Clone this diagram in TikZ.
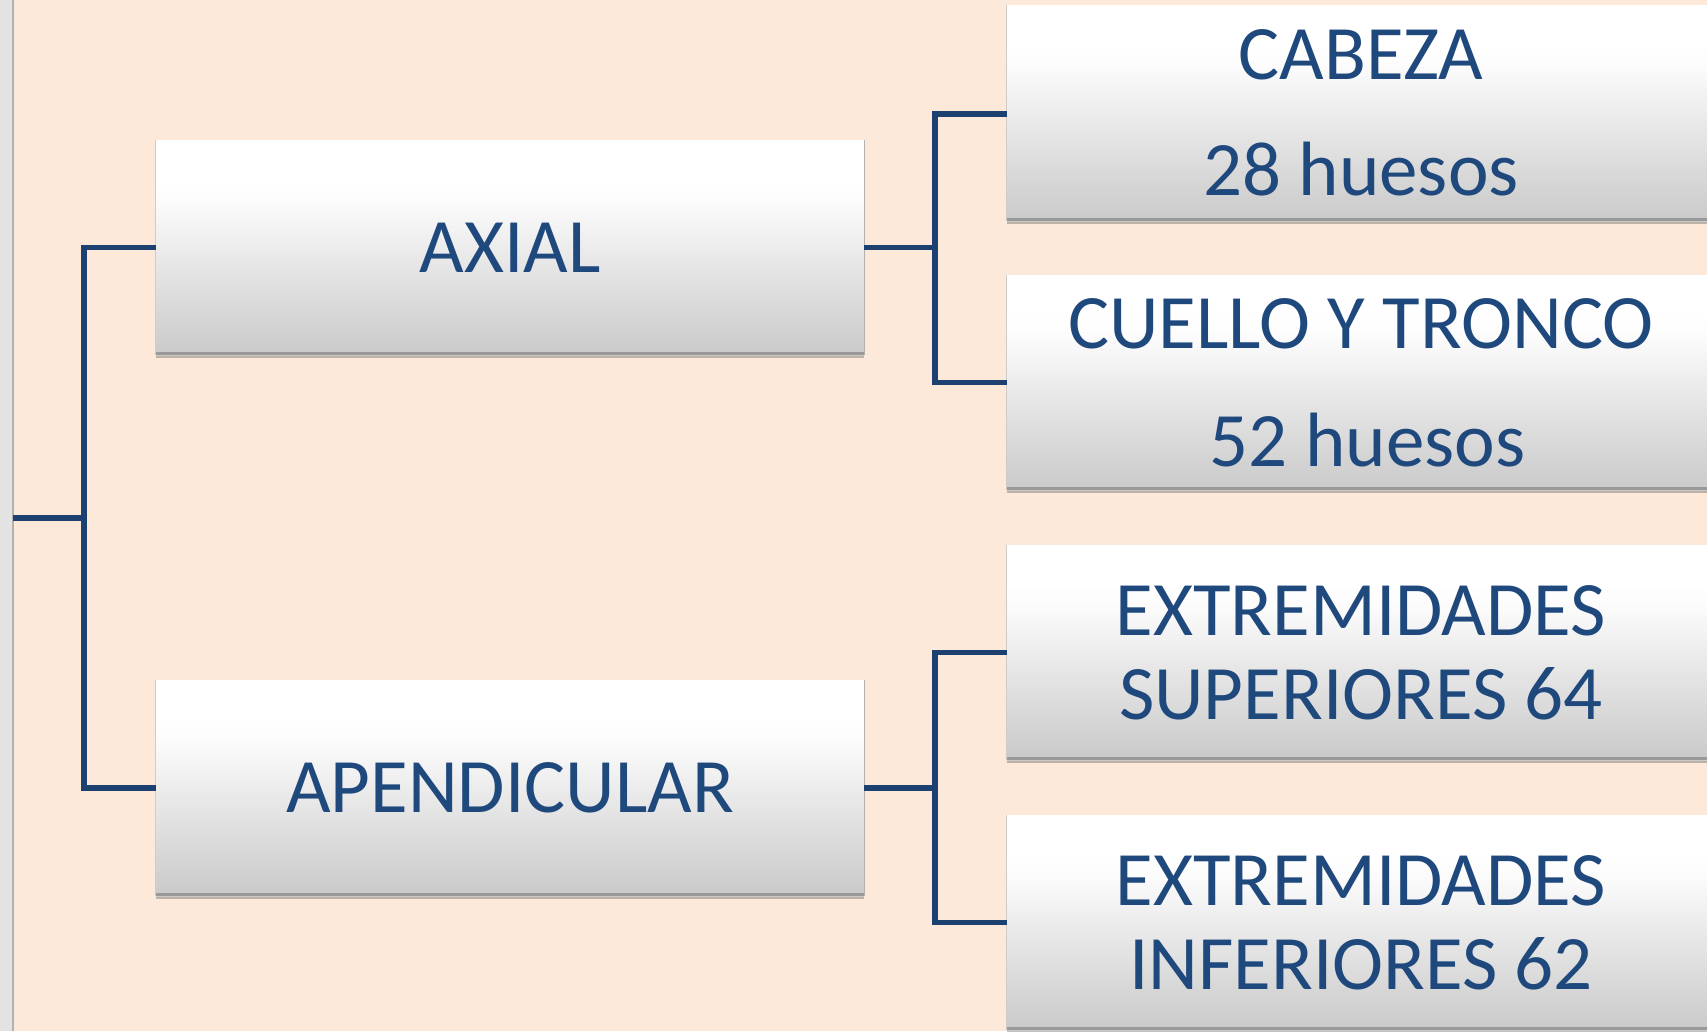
\documentclass[tikz,border=0pt]{standalone}
\usepackage{fontspec}
\setmainfont{Carlito}
\usetikzlibrary{shadows}
\definecolor{bg}{RGB}{252,233,217}
\definecolor{txt}{RGB}{31,73,125}
\definecolor{ln}{RGB}{28,64,112}
\definecolor{gA}{RGB}{202,202,202}
\definecolor{gB}{RGB}{218,218,218}
\definecolor{gC}{RGB}{236,236,236}
\definecolor{gD}{RGB}{252,252,252}
\pgfdeclareverticalshading{boxshade}{100bp}{color(0bp)=(gA); color(25bp)=(gA); color(37bp)=(gB); color(50bp)=(gC); color(61bp)=(gD); color(66bp)=(white); color(100bp)=(white)}
\tikzset{
  box/.style={rectangle, inner sep=0pt, minimum width=708pt,
    shading=boxshade,
    text=txt, align=center, font=\fontsize{77}{84}\selectfont,
    drop shadow={shadow xshift=0pt, shadow yshift=-3pt, opacity=0.35, fill=black!70}},
  conn/.style={draw=ln, line width=5.5pt, line join=miter},
  bevel/.style={draw=gray!80, line width=3.5pt}
}
\begin{document}
\begin{tikzpicture}[x=1pt,y=-1pt]
\useasboundingbox (0,0) rectangle (1707,1031);
\clip (0,0) rectangle (1707,1031);
\fill[bg] (0,0) rectangle (1707,1031);
\fill[gray!22] (0,0) rectangle (12,1031);
\draw[gray!60, line width=2pt] (13,0) -- (13,1031);

\node[box, minimum height=215pt] (axial) at (510,247.5) {AXIAL};
\node[box, minimum height=216pt] (apend) at (510,788) {APENDICULAR};
\node[box, minimum height=216pt, font=\fontsize{77}{116}\selectfont] (cabeza) at (1361,113) {CABEZA\\28 huesos};
\node[box, minimum height=215pt, font=\fontsize{77}{118}\selectfont] (cuello) at (1361,382.5) {CUELLO Y TRONCO\\\hspace*{13pt}52 huesos};
\node[box, minimum height=215pt] (sup) at (1361,652.5) {EXTREMIDADES\\SUPERIORES 64};
\node[box, minimum height=215pt] (inf) at (1361,922.5) {EXTREMIDADES\\INFERIORES 62};

\foreach \n in {axial,apend,cabeza,cuello,sup,inf}{
  \draw[bevel] ([yshift=1.75pt]\n.south west) -- ([yshift=1.75pt]\n.south east);
  \draw[gray!40, line width=1pt] (\n.south west) -- (\n.north west);
  \draw[gray!60, line width=1.2pt] (\n.south east) -- (\n.north east);
}

\coordinate (root) at (13,518);
\coordinate (lsplit) at (84,518);
\coordinate (rs1) at (935,247.5);
\coordinate (rs2) at (935,788);

\draw[conn] (root) -- (lsplit);
\draw[conn] (axial.west) -| (lsplit) |- (apend.west);
\draw[conn] (axial.east) -- (rs1);
\draw[conn] ([yshift=-1pt]cabeza.west) -| (rs1) |- (cuello.west);
\draw[conn] (apend.east) -- (rs2);
\draw[conn] (sup.west) -| (rs2) |- (inf.west);
\end{tikzpicture}
\end{document}
